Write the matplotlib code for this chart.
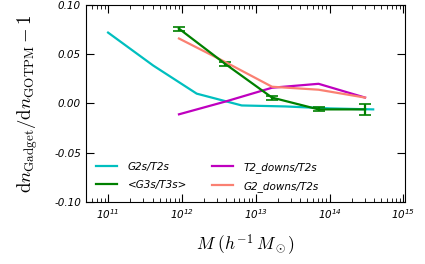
import numpy as np
import matplotlib
matplotlib.use("Agg")
import matplotlib.pyplot as plt

plt.rcParams['mathtext.fontset'] = 'cm'

# log10 of halo mass
lm_cyan = [11.0, 11.61, 12.2, 12.81, 13.4, 14.0, 14.59]
g2s_t2s = [0.072, 0.0386, 0.010, -0.002, -0.003, -0.005, -0.006]

lm_bins = [11.96, 12.59, 13.22, 13.85, 14.48]
g3s_t3s = [0.076, 0.040, 0.006, -0.006, -0.006]
g3s_err = [0.002, 0.002, 0.002, 0.002, 0.0055]
t2_downs = [-0.011, 0.002, 0.016, 0.020, 0.006]
g2_downs = [0.066, 0.042, 0.017, 0.014, 0.006]

fig = plt.figure(figsize=(4.25, 2.64), dpi=100)
ax = fig.add_axes([0.202, 0.235, 0.751, 0.746])

m_cyan = 10**np.array(lm_cyan)
m_bins = 10**np.array(lm_bins)

h1, = ax.plot(m_cyan, g2s_t2s, color='c', lw=1.6, label='G2s/T2s')
ax.errorbar(m_bins, g3s_t3s, yerr=g3s_err, color='g', lw=1.6, capsize=4,
            capthick=1.2)
h2, = ax.plot([], [], color='g', lw=1.6, label='<G3s/T3s>')
h3, = ax.plot(m_bins, t2_downs, color='m', lw=1.6, label='T2_downs/T2s')
h4, = ax.plot(m_bins, g2_downs, color='salmon', lw=1.6, label='G2_downs/T2s')

ax.set_xscale('log')
ax.set_xlim(5e10, 1.05e15)
ax.set_ylim(-0.1, 0.1)
ax.set_yticks([-0.1, -0.05, 0.0, 0.05, 0.1])
ax.set_xticks([1e11, 1e12, 1e13, 1e14, 1e15])
ax.tick_params(which='both', direction='in', top=True, right=True)
ax.tick_params(which='major', length=6)
ax.tick_params(which='minor', length=3)
ax.tick_params(axis='y', which='minor', left=False, right=False)
ax.yaxis.set_major_formatter(matplotlib.ticker.FormatStrFormatter('%.2f'))
for lab in ax.get_xticklabels() + ax.get_yticklabels():
    lab.set_fontstyle('italic')
    lab.set_fontsize(7.5)

ax.set_ylabel(r'$\mathrm{d}n_{\mathrm{Gadget}}/\mathrm{d}n_{\mathrm{GOTPM}}-1$',
              fontsize=13.5, labelpad=10)
ax.set_xlabel(r'$M\ (h^{-1}\,M_\odot)$', fontsize=12.5, labelpad=8)

leg = ax.legend(handles=[h1, h2, h3, h4], loc='lower left', ncol=2,
                frameon=False, fontsize=7.5, handlelength=2.0,
                handletextpad=1.0, columnspacing=2.4, labelspacing=0.75,
                borderaxespad=0.6)
for t in leg.get_texts():
    t.set_fontstyle('italic')

fig.savefig('out.png', dpi=100)
